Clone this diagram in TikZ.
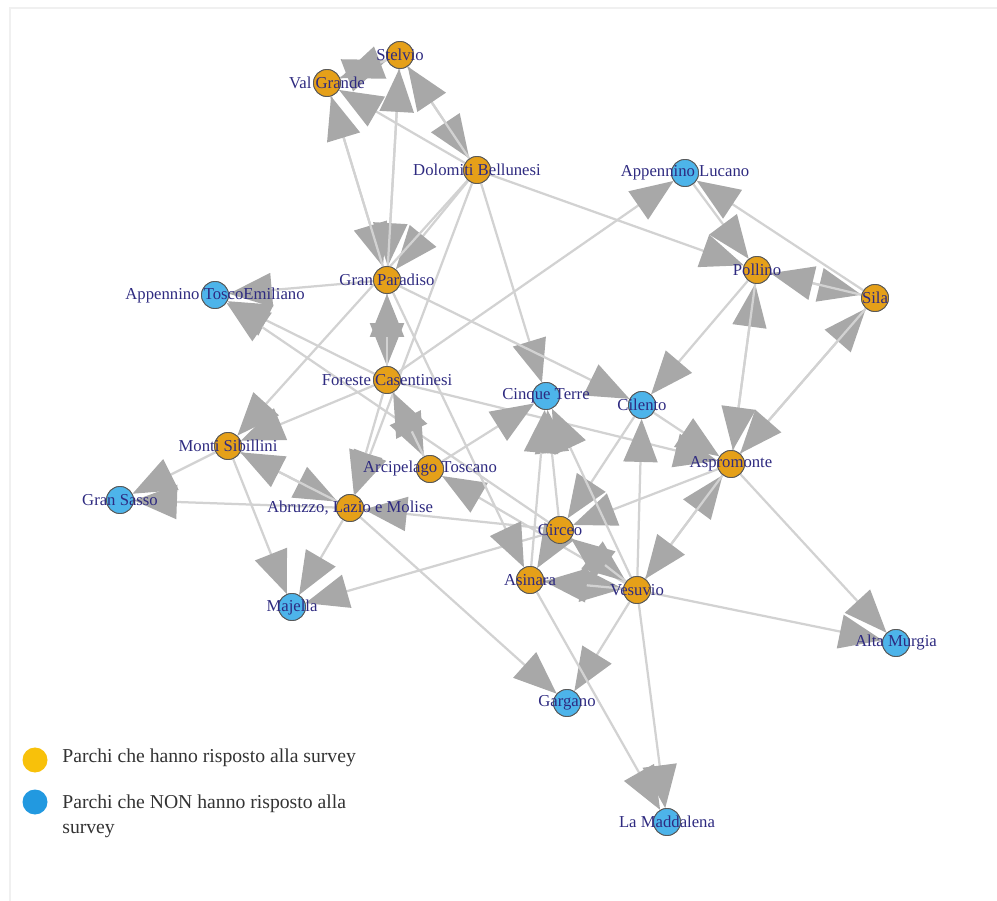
\documentclass[tikz,border=0pt]{standalone}
\usepackage{fontspec}
\setmainfont{Liberation Serif}
\usetikzlibrary{arrows.meta}
\definecolor{answered}{HTML}{E5A019}
\definecolor{silent}{HTML}{4DB4EA}
\definecolor{labelblue}{HTML}{2E2A80}
\definecolor{edgegray}{HTML}{D2D2D2}
\definecolor{headgray}{HTML}{A8A8A8}
\definecolor{legyellow}{HTML}{F8C10A}
\definecolor{legblue}{HTML}{2299E0}

\tikzset{
  park/.style={circle,draw=black!65,line width=0.5pt,minimum size=5.4mm,inner sep=0pt},
  yes/.style={park,fill=answered},
  no/.style={park,fill=silent},
  parkname/.style={text=labelblue,font=\fontsize{9.5}{11}\selectfont,inner sep=0pt},
  edge/.style={draw=edgegray,line width=0.45mm,
    -{Triangle[length=8.6mm,width=6.8mm,color=headgray]}},
  legtext/.style={text=black!80,font=\fontsize{11.2}{14.5}\selectfont,inner sep=0pt},
}

\begin{document}
\begin{tikzpicture}[x=0.2mm,y=-0.2mm]
\useasboundingbox (0,0) rectangle (997,901);
\draw[black!6,line width=0.4mm] (10,901) -- (10,8) -- (997,8);

% parks
\node[yes] (stelvio) at (400,55) {};
\node[yes] (valgrande) at (327,83) {};
\node[yes] (dolomiti) at (477,170) {};
\node[no] (applucano) at (685,173) {};
\node[yes] (granparadiso) at (387,280) {};
\node[yes] (pollino) at (757,270) {};
\node[yes] (sila) at (875,298) {};
\node[no] (apptosco) at (215,295) {};
\node[yes] (foreste) at (387,380) {};
\node[no] (cinqueterre) at (546,396) {};
\node[no] (cilento) at (642,405) {};
\node[yes] (sibillini) at (228,446) {};
\node[yes] (aspromonte) at (731,464) {};
\node[yes] (arcipelago) at (430,469) {};
\node[no] (gransasso) at (120,500) {};
\node[yes] (abruzzo) at (350,508) {};
\node[yes] (circeo) at (560,530) {};
\node[yes] (asinara) at (530,580) {};
\node[yes] (vesuvio) at (637,590) {};
\node[no] (majella) at (292,607) {};
\node[no] (altamurgia) at (896,643) {};
\node[no] (gargano) at (567,703) {};
\node[no] (maddalena) at (667,822) {};

% links
\foreach \from/\to in {
  valgrande/stelvio, stelvio/valgrande, valgrande/granparadiso, granparadiso/valgrande,
  stelvio/granparadiso, granparadiso/stelvio, stelvio/dolomiti, dolomiti/stelvio,
  dolomiti/valgrande, dolomiti/granparadiso, dolomiti/pollino, dolomiti/cinqueterre,
  dolomiti/abruzzo, dolomiti/sibillini, foreste/applucano, applucano/pollino,
  sila/applucano, pollino/sila, sila/pollino, aspromonte/pollino, pollino/aspromonte,
  aspromonte/sila, sila/aspromonte, pollino/cilento, aspromonte/altamurgia,
  vesuvio/altamurgia, vesuvio/aspromonte, aspromonte/vesuvio, cilento/aspromonte,
  foreste/aspromonte, aspromonte/circeo, vesuvio/cilento, granparadiso/cilento,
  cilento/circeo, arcipelago/cinqueterre, circeo/cinqueterre, asinara/cinqueterre,
  vesuvio/cinqueterre, granparadiso/foreste, foreste/granparadiso, granparadiso/apptosco,
  foreste/apptosco, circeo/apptosco, foreste/sibillini, sibillini/gransasso,
  abruzzo/gransasso, sibillini/abruzzo, abruzzo/sibillini, sibillini/majella,
  abruzzo/majella, circeo/majella, foreste/abruzzo, foreste/arcipelago,
  arcipelago/foreste, vesuvio/arcipelago, circeo/abruzzo, abruzzo/gargano,
  vesuvio/gargano, asinara/maddalena, vesuvio/maddalena, circeo/vesuvio,
  vesuvio/circeo, asinara/vesuvio, vesuvio/asinara, granparadiso/asinara,
  circeo/asinara}
  \draw[edge] (\from) -- (\to);

% redraw circles over the links
\foreach \p in {stelvio,valgrande,dolomiti,granparadiso,pollino,sila,foreste,sibillini,
  aspromonte,arcipelago,abruzzo,circeo,asinara,vesuvio}
  \node[yes] at (\p) {};
\foreach \p in {applucano,apptosco,cinqueterre,cilento,gransasso,majella,altamurgia,
  gargano,maddalena}
  \node[no] at (\p) {};

% names
\node[parkname] (stelvio-l) at (stelvio) {Stelvio};
\node[parkname] (valgrande-l) at (valgrande) {Val Grande};
\node[parkname] (dolomiti-l) at (dolomiti) {Dolomiti Bellunesi};
\node[parkname] (applucano-l) at (applucano) {Appennino Lucano};
\node[parkname] (granparadiso-l) at (granparadiso) {Gran Paradiso};
\node[parkname] (pollino-l) at (pollino) {Pollino};
\node[parkname] (sila-l) at (sila) {Sila};
\node[parkname] (apptosco-l) at (apptosco) {Appennino ToscoEmiliano};
\node[parkname] (foreste-l) at (foreste) {Foreste Casentinesi};
\node[parkname] (cinqueterre-l) at (cinqueterre) {Cinque Terre};
\node[parkname] (cilento-l) at (cilento) {Cilento};
\node[parkname] (sibillini-l) at (sibillini) {Monti Sibillini};
\node[parkname] (aspromonte-l) at (aspromonte) {Aspromonte};
\node[parkname] (arcipelago-l) at (arcipelago) {Arcipelago Toscano};
\node[parkname] (gransasso-l) at (gransasso) {Gran Sasso};
\node[parkname] (abruzzo-l) at (abruzzo) {Abruzzo, Lazio e Molise};
\node[parkname] (circeo-l) at (circeo) {Circeo};
\node[parkname] (asinara-l) at (asinara) {Asinara};
\node[parkname] (vesuvio-l) at (vesuvio) {Vesuvio};
\node[parkname] (majella-l) at (majella) {Majella};
\node[parkname] (altamurgia-l) at (altamurgia) {Alta Murgia};
\node[parkname] (gargano-l) at (gargano) {Gargano};
\node[parkname] (maddalena-l) at (maddalena) {La Maddalena};

% legend
\node[circle,fill=legyellow,minimum size=5mm,inner sep=0pt] (legyes) at (35,760) {};
\node[circle,fill=legblue,minimum size=5mm,inner sep=0pt] (legno) at (35,802) {};
\node[legtext,anchor=west] (legyes-t) at (62,758) {Parchi che hanno risposto alla survey};
\node[legtext,anchor=north west,align=left] (legno-t) at (62,794)
  {Parchi che NON hanno risposto alla\\survey};
\end{tikzpicture}
\end{document}
